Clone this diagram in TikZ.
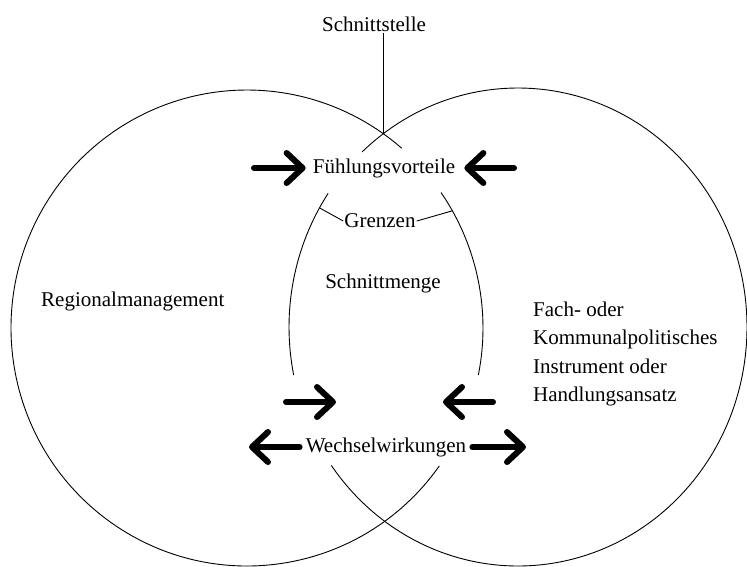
\documentclass[tikz,border=0pt]{standalone}
\usepackage{fontspec}
\setmainfont{Liberation Serif}
\usetikzlibrary{arrows.meta}
\begin{document}
\begin{tikzpicture}[x=1pt,y=-1pt,
  lbl/.style={font=\fontsize{21}{28.3}\selectfont, inner sep=1pt},
  ring/.style={line width=0.9pt},
  tie/.style={line width=0.9pt},
  fat/.style={line width=6pt, line cap=round, line join=round,
    -{Straight Barb[length=16pt,width=30pt,round]}}]
\useasboundingbox (0,0) rectangle (747,566);

% centres of the two sets
\coordinate (cL) at (247,328);
\coordinate (cR) at (518,327);

% left set: outer arc and the piece between the two labels
\draw[ring] (cL) ++(35.4:236 and 238)
  arc[start angle=35.4, end angle=311, x radius=236, y radius=238];
\draw[ring] (cL) ++(-34.7:236 and 238)
  arc[start angle=-34.7, end angle=11.4, x radius=236, y radius=238];

% right set: outer arc and the piece between the two labels
\draw[ring] (cR) ++(227.1:229 and 239)
  arc[start angle=227.1, end angle=504.6, x radius=229, y radius=239];
\draw[ring] (cR) ++(168.4:229 and 239)
  arc[start angle=168.4, end angle=214, x radius=229, y radius=239];

% upper crossing point of the two boundaries
\coordinate (top) at (383,134);
% points on the boundaries marked by "Grenzen"
\path (cR) ++(209.9:229 and 239) coordinate (gL);
\path (cL) ++(-29.5:236 and 238) coordinate (gR);

% labels
\node[lbl] (schnitt) at (374,24) {Schnittstelle};
\node[lbl] (fuehl) at (384,168) {Fühlungsvorteile};
\node[lbl] (grenzen) at (380,221) {Grenzen};
\node[lbl] (menge) at (383,283) {Schnittmenge};
\node[lbl, anchor=west] (regio) at (40,301) {Regionalmanagement};
\node[lbl, anchor=west, align=left] (fach) at (532,354)
  {Fach- oder\\Kommunalpolitisches\\Instrument oder\\Handlungsansatz};
\node[lbl] (wech) at (386,447) {Wechselwirkungen};

% pointer lines
\draw[tie] (schnitt.south -| top) -- (top);
\draw[tie] (gL) -- (grenzen.west);
\draw[tie] (grenzen.east) -- (gR);

% thick arrows
\coordinate (a1) at (254,168);
\coordinate (a2) at (514,168);
\coordinate (a3s) at (286,402);
\coordinate (a3e) at (336,402);
\coordinate (a4s) at (493,402);
\coordinate (a4e) at (443,402);
\coordinate (a5) at (249,447);
\coordinate (a6) at (526,447);

\draw[fat, shorten >=6pt] (a1) -- (fuehl.west);
\draw[fat, shorten >=8pt] (a2) -- (fuehl.east);
\draw[fat] (a3s) -- (a3e);
\draw[fat] (a4s) -- (a4e);
\draw[fat, shorten <=5pt] (wech.west) -- (a5);
\draw[fat, shorten <=5pt] (wech.east) -- (a6);
\end{tikzpicture}
\end{document}
